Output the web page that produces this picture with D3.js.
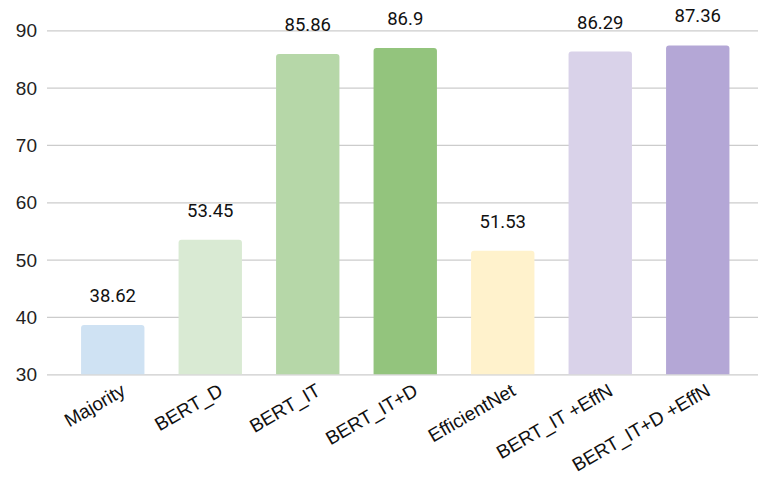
<!DOCTYPE html>
<html>
<head>
<meta charset="utf-8">
<script src="https://cdn.jsdelivr.net/npm/d3@7"></script>
<style>
  html, body { margin: 0; padding: 0; background: #fff; }
  svg { display: block; }
</style>
</head>
<body>
<svg id="chart" width="760" height="477"></svg>
<script>
// Accuracy by model
const categories = ["Majority", "BERT_D", "BERT_IT", "BERT_IT+D", "EfficientNet", "BERT_IT +EffN", "BERT_IT+D +EffN"];
const values = [38.62, 53.45, 85.86, 86.9, 51.53, 86.29, 87.36];
const colors = ["#cfe2f3", "#d9ead3", "#b6d7a8", "#93c47d", "#fff2cc", "#d9d2e9", "#b4a7d6"];
const yTicks = [30, 40, 50, 60, 70, 80, 90];

const svg = d3.select("#chart");

const x = d3.scaleBand()
  .domain(categories)
  .range([64, 746.5])
  .paddingInner(0.35)
  .paddingOuter(0.175);

const y = d3.scaleLinear()
  .domain([30, 90])
  .range([374.3, 30.3]);

// Gridlines and y tick labels
const yAxis = d3.axisLeft(y)
  .tickValues(yTicks)
  .tickSize(0)
  .tickPadding(10)
  .tickFormat(d3.format("d"));

const gy = svg.append("g")
  .attr("transform", "translate(47,0)")
  .call(yAxis);
gy.select(".domain").remove();
gy.selectAll(".tick line")
  .attr("x2", 758 - 47)
  .attr("stroke", "#cccccc")
  .attr("stroke-width", 1.2);
gy.selectAll(".tick text")
  .attr("font-family", "'Liberation Sans', Arial, sans-serif")
  .attr("font-size", 19)
  .attr("fill", "#222")
  .attr("dy", "0.35em");

// Bars with lightly rounded tops
const r = 3;
function barPath(d, i) {
  const x0 = x(categories[i]);
  const w = x.bandwidth();
  const yt = y(d);
  const yb = y(30);
  return `M${x0},${yb} V${yt + r} Q${x0},${yt} ${x0 + r},${yt} H${x0 + w - r} Q${x0 + w},${yt} ${x0 + w},${yt + r} V${yb} Z`;
}

svg.append("g")
  .selectAll("path")
  .data(values)
  .join("path")
  .attr("d", barPath)
  .attr("fill", (d, i) => colors[i]);

// Value labels above bars
svg.append("g")
  .selectAll("text")
  .data(values)
  .join("text")
  .attr("x", (d, i) => x(categories[i]) + x.bandwidth() / 2)
  .attr("y", d => y(d) - 23)
  .attr("text-anchor", "middle")
  .attr("font-family", "Roboto, 'Liberation Sans', Arial, sans-serif")
  .attr("font-size", 18.5)
  .attr("fill", "#111")
  .text(d => String(d));

// Rotated category labels
const xAxis = d3.axisBottom(x).tickSize(0).tickPadding(0);
const gx = svg.append("g")
  .attr("transform", `translate(0,${y(30)})`)
  .call(xAxis);
gx.select(".domain").remove();
gx.selectAll(".tick text")
  .attr("font-family", "'Liberation Sans', Arial, sans-serif")
  .attr("font-size", 19)
  .attr("fill", "#111")
  .attr("text-anchor", "end")
  .attr("y", 0)
  .attr("dy", 0)
  .attr("transform", "translate(14,20) rotate(-30)");
</script>
</body>
</html>
